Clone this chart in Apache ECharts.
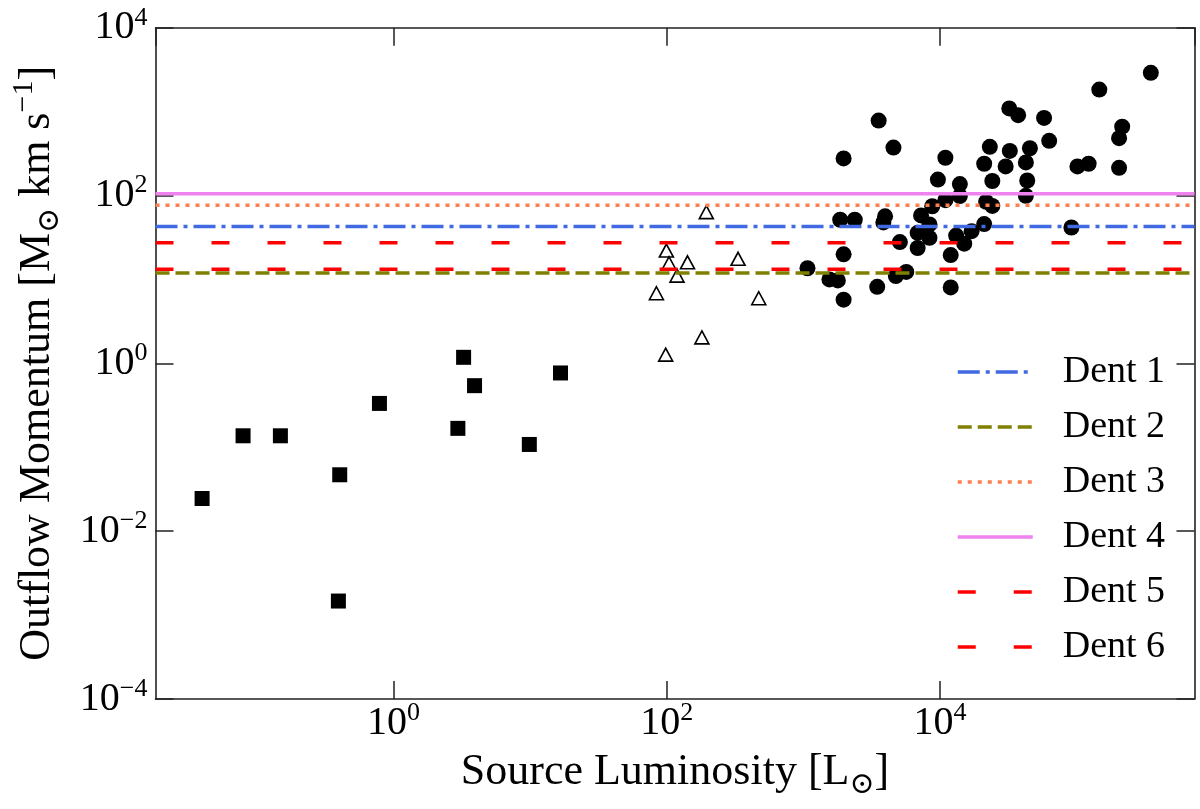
<!DOCTYPE html>
<html>
<head>
<meta charset="utf-8">
<script src="https://cdn.jsdelivr.net/npm/echarts@6/dist/echarts.min.js"></script>
<style>
html,body{margin:0;padding:0;background:#fff;}
#chart{width:1200px;height:809px;}
</style>
</head>
<body>
<div id="chart"></div>
<script>
// ---- axis limits ----
const X_MIN = 0.0181;
const X_MAX = 7.31e5;
const Y_MIN = 1e-4;
const Y_MAX = 1e4;

// ---- squares (low luminosity sources) ----
const squaresX = [3.26, 16.7, 3.92, 0.789, 0.0792, 0.1486, 2.96, 9.87, 0.404, 0.0397, 0.395];
const squaresY = [1.18, 0.768, 0.542, 0.333, 0.137, 0.137, 0.168, 0.108, 0.047, 0.0245, 0.00147];

// ---- open triangles ----
const trianglesX = [195, 99.5, 104, 142, 119, 333, 84.1, 472, 181, 98.3];
const trianglesY = [63.4, 22.1, 15.6, 16.0, 11.1, 17.6, 6.85, 5.97, 2.04, 1.27];

// ---- filled circles ----
const circlesX = [3.50e5, 1.469e5, 3.22e4, 3.74e4, 5.79e4, 3562, 2.16e5, 2.05e5, 6.31e4, 4571,
  2.32e4, 1.097e4, 3.25e4, 4.56e4, 1973, 2.11e4, 3.03e4, 4.26e4, 1.016e5, 1.227e5,
  2.05e5, 9670, 2.42e4, 4.36e4, 1.40e4, 1.40e4, 4.26e4, 1.097e4, 8790, 2.18e4,
  2.42e4, 7280, 1863, 2381, 3970, 3855, 8390, 2.11e4, 9.18e4, 6873,
  1.707e4, 1.315e4, 8390, 5093, 1.507e4, 6873, 1973, 1.2e4, 1073, 1553,
  1790, 4760, 5675, 3477, 1.2e4, 1973];
const circlesY = [2900, 1832, 1092, 906, 841, 781, 662, 483, 448, 373,
  380, 282, 340, 366, 277, 239, 222, 248, 222, 239,
  214, 155, 149, 151, 137, 98.4, 99.2, 88.1, 74.5, 84.1,
  75.2, 58.0, 51.4, 51.4, 56.5, 47.8, 45.2, 45.7, 41.6, 35.9,
  37.6, 33.3, 31.3, 27.9, 26.7, 23.7, 19.9, 19.5, 13.6, 10.0,
  9.73, 10.98, 12.3, 8.16, 8.03, 5.74];

// ---- horizontal "Dent" levels ----
const dentNames = ['Dent 1', 'Dent 2', 'Dent 3', 'Dent 4', 'Dent 5', 'Dent 6'];
const dentValues = [42.8, 11.9, 76.8, 105, 27.3, 13.2];
const dentColors = ['#4169E1', '#808000', '#FF7F50', '#EE82EE', '#FF0000', '#FF0000'];
const dentDash = [[22, 6, 4, 6], [14, 6], [4, 6], 'solid', [18, 38], [18, 38]];

// ---- tick label text ----
const FONT = '"Liberation Serif", "DejaVu Serif", serif';
function expLabel(v) {
  const e = Math.round(Math.log10(v));
  const s = e < 0 ? '\u2212' + (-e) : String(e);
  return '{b|10}{s|' + s + '}';
}
const tickRich = {
  b: { fontSize: 40, lineHeight: 46, fontFamily: FONT, color: '#000' },
  s: { fontSize: 26, lineHeight: 30, verticalAlign: 'top', fontFamily: FONT, color: '#000' }
};
const nameRich = {
  t: { fontSize: 44, lineHeight: 56, fontFamily: FONT, color: '#000' },
  sub: { fontSize: 30, lineHeight: 40, verticalAlign: 'bottom', fontFamily: FONT, color: '#000' },
  sup: { fontSize: 30, lineHeight: 36, verticalAlign: 'top', fontFamily: FONT, color: '#000' }
};

const axisLineStyle = { show: true, lineStyle: { color: '#222', width: 1.6 } };
const tickStyle = { show: true, inside: true, length: 18, lineStyle: { color: '#222', width: 1.5 } };

function zip(xs, ys) { return xs.map((x, i) => [x, ys[i]]); }

const series = [
  {
    type: 'scatter', name: 'squares', symbol: 'rect', symbolSize: 15,
    itemStyle: { color: '#000', opacity: 1 }, z: 2,
    data: zip(squaresX, squaresY)
  },
  {
    type: 'scatter', name: 'triangles', symbol: 'triangle', symbolSize: [14, 13],
    itemStyle: { color: '#fff', borderColor: '#000', borderWidth: 1.6, opacity: 1 }, z: 2,
    data: zip(trianglesX, trianglesY)
  },
  {
    type: 'scatter', name: 'circles', symbol: 'circle', symbolSize: 16,
    itemStyle: { color: '#000', opacity: 1 }, z: 2,
    data: zip(circlesX, circlesY)
  }
];
dentNames.forEach((n, i) => {
  series.push({
    type: 'line', name: n, symbol: 'none', z: 3 + i,
    lineStyle: { color: dentColors[i], width: 3.5, type: dentDash[i] },
    itemStyle: { color: dentColors[i] },
    data: [[X_MIN, dentValues[i]], [X_MAX, dentValues[i]]]
  });
});

const chart = echarts.init(document.getElementById('chart'), null, { renderer: 'canvas' });
chart.setOption({
  animation: false,
  backgroundColor: '#fff',
  grid: { left: 155.5, right: 5.5, top: 27.7, bottom: 110, containLabel: false },
  legend: {
    data: dentNames,
    orient: 'vertical',
    left: 956, top: 352, padding: 0,
    itemWidth: 75, itemHeight: 2, itemGap: 15,
    itemStyle: { opacity: 0 },
    lineStyle: { width: 3.5 },
    textStyle: { fontSize: 38, lineHeight: 40, fontFamily: FONT, color: '#000', padding: [0, 0, 0, 25] }
  },
  xAxis: [
    {
      type: 'log', logBase: 100, min: X_MIN, max: X_MAX, position: 'bottom',
      axisLine: axisLineStyle, axisTick: tickStyle, splitLine: { show: false },
      axisLabel: { show: true, margin: 1, formatter: expLabel, rich: tickRich, showMinLabel: false, showMaxLabel: false },
      name: '{t|Source Luminosity [L}{sub|\u2299}{t|]}',
      nameLocation: 'middle', nameGap: 45,
      nameTextStyle: { rich: nameRich }
    },
    {
      type: 'log', logBase: 100, min: X_MIN, max: X_MAX, position: 'top',
      axisLine: axisLineStyle, axisTick: tickStyle, splitLine: { show: false },
      axisLabel: { show: false }
    }
  ],
  yAxis: [
    {
      type: 'log', logBase: 100, min: Y_MIN, max: Y_MAX, position: 'left',
      axisLine: axisLineStyle, axisTick: tickStyle, splitLine: { show: false },
      axisLabel: { show: true, margin: 8, formatter: expLabel, rich: tickRich },
      name: '{t|Outflow Momentum [M}{sub|\u2299}{t| km s}{sup|\u22121}{t|]}',
      nameLocation: 'middle', nameGap: 90,
      nameTextStyle: { rich: nameRich }
    },
    {
      type: 'log', logBase: 100, min: Y_MIN, max: Y_MAX, position: 'right',
      axisLine: axisLineStyle, axisTick: tickStyle, splitLine: { show: false },
      axisLabel: { show: false }
    }
  ],
  series: series
});
</script>
</body>
</html>
